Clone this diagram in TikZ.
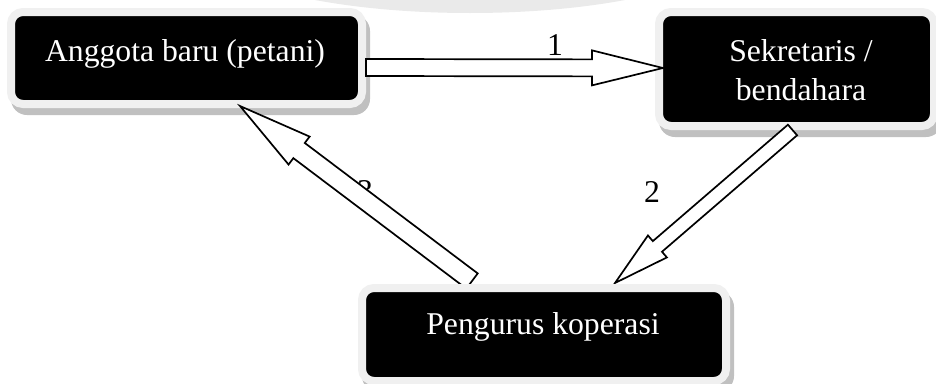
\documentclass[tikz,border=0pt]{standalone}
\usepackage{fontspec}
\setmainfont{Liberation Serif}
\usetikzlibrary{calc}
\definecolor{borderc}{RGB}{240,240,240}
\definecolor{shadowc}{RGB}{192,192,192}
\definecolor{wmark}{RGB}{234,234,234}
\newcommand{\blockarr}[5]{%
  \coordinate (hb) at ($(#2)!#5!(#1)$);
  \draw[blockarrow] ($(#1)!#3!90:(#2)$) -- ($(hb)!#3!90:(#2)$) -- ($(hb)!#4!90:(#2)$) -- (#2)
     -- ($(hb)!#4!-90:(#2)$) -- ($(hb)!#3!-90:(#2)$) -- ($(#1)!#3!-90:(#2)$) -- cycle;
}
\begin{document}
\begin{tikzpicture}[x=1pt,y=-1pt,
  boxnode/.style={draw=borderc, line width=8pt, fill=black, rounded corners=12pt,
    outer sep=0pt, inner sep=0pt},
  boxshadow/.style={fill=shadowc, rounded corners=16pt},
  boxtext/.style={text=white, font=\fontsize{31.7pt}{40pt}\selectfont, inner sep=0pt, anchor=base},
  numlabel/.style={text=black, font=\fontsize{31.7pt}{40pt}\selectfont, inner sep=0pt, anchor=base},
  blockarrow/.style={draw=black, fill=white, line width=1.7pt, line join=miter}]
\useasboundingbox (0,0) rectangle (936,383);
\fill[white] (0,0) rectangle (936,383);
% watermark arc
\begin{scope}
\clip (0,0) rectangle (936,383);
\fill[wmark] (470,-60) ellipse [x radius=272, y radius=73];
\end{scope}
% boxes 1 and 2
\coordinate (c1) at (186.5,58);
\coordinate (c2) at (796.5,69);
\coordinate (c3) at (544,334.5);
\fill[boxshadow] ($(c1)+(-175.5,-46)+(0,3)$) rectangle ($(c1)+(175.5,46)+(8,11)$);
\node[boxnode, minimum width=351pt, minimum height=92pt] (b1) at (c1) {};
\fill[boxshadow] ($(c2)+(-137.5,-57)+(0,3)$) rectangle ($(c2)+(137.5,57)+(8,11)$);
\node[boxnode, minimum width=275pt, minimum height=114pt] (b2) at (c2) {};
\node[boxtext] (t1) at (185,61.5) {Anggota baru (petani)};
\node[boxtext] (t2a) at (801,61) {Sekretaris /};
\node[boxtext] (t2b) at (801,100.5) {bendahara};
% labels
\node[numlabel] (n1) at (555,55) {1};
\node[numlabel] (n2) at (652,202) {2};
\node[numlabel] (n3) at (365,201.5) {3};
% arrows
\coordinate (a1s) at (366,67.5);
\coordinate (a1e) at (663,68);
\blockarr{a1s}{a1e}{8.5pt}{17.5pt}{71pt}
\coordinate (a2s) at (792.5,130);
\coordinate (a2e) at (615,283);
\blockarr{a2s}{a2e}{7pt}{14.5pt}{56pt}
\coordinate (a3s) at (472,281);
\coordinate (a3e) at (240,106);
\blockarr{a3s}{a3e}{9.5pt}{17.5pt}{74pt}
% box 3
\fill[boxshadow] ($(c3)+(-182,-46.5)+(0,3)$) rectangle ($(c3)+(182,46.5)+(8,11)$);
\node[boxnode, minimum width=364pt, minimum height=93pt] (b3) at (c3) {};
\node[boxtext] (t3) at (543,334) {Pengurus koperasi};
\end{tikzpicture}
\end{document}
